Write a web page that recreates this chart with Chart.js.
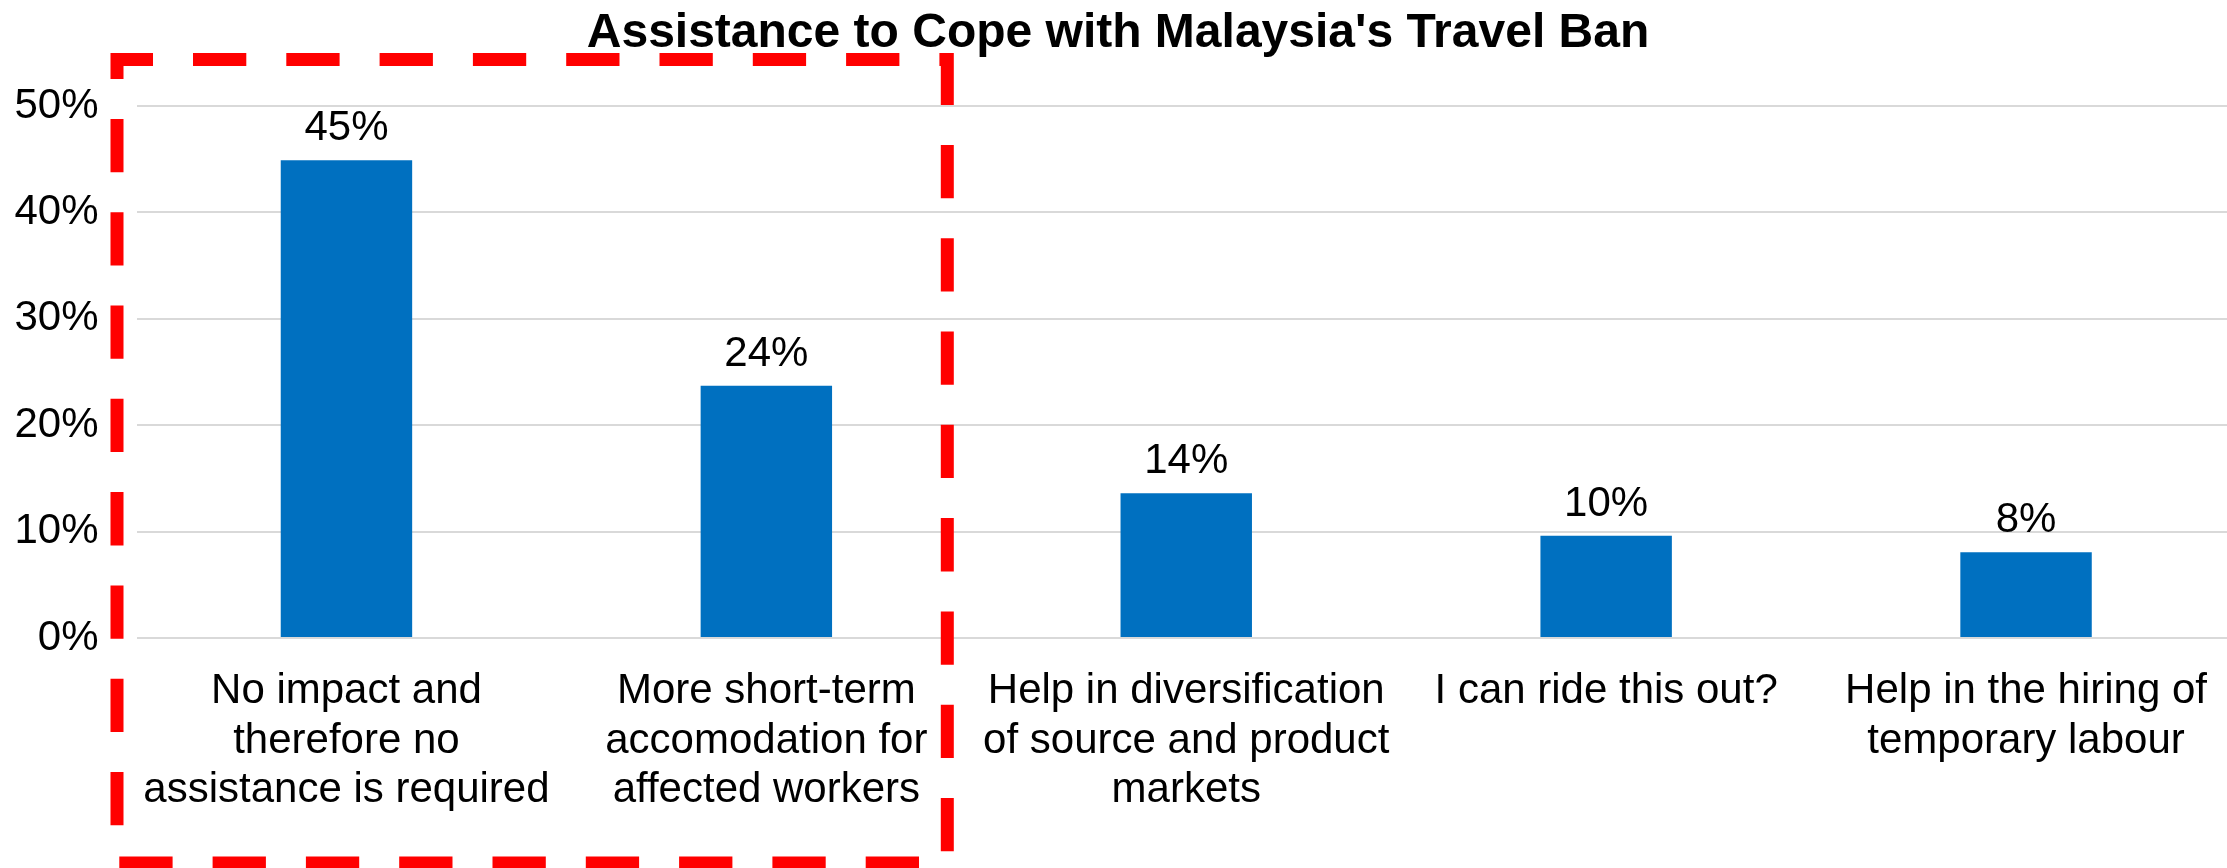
<!DOCTYPE html>
<html lang="en">
<head>
    <meta charset="UTF-8">
    <title>Assistance to Cope with Malaysia's Travel Ban</title>
    <script src="https://cdn.jsdelivr.net/npm/chart.js@4.4.1/dist/chart.umd.min.js"></script>
    <style>
        html, body { margin: 0; padding: 0; background: #ffffff; overflow: hidden; }
        #wrap { width: 2236px; height: 868px; }
    </style>
</head>
<body>
    <div id="wrap">
        <canvas id="assistChart" width="2236" height="868"></canvas>
    </div>

    <script>
        // data
        const categories = [
            ['No impact and', 'therefore no', 'assistance is required'],
            ['More short-term', 'accomodation for', 'affected workers'],
            ['Help in diversification', 'of source and product', 'markets'],
            ['I can ride this out?'],
            ['Help in the hiring of', 'temporary labour']
        ];
        const shares = [44.9, 23.7, 13.6, 9.6, 8.05];   // percent
        const yTicks = [0, 10, 20, 30, 40, 50];

        const FONT = "'Liberation Sans', Arial, sans-serif";

        // value labels on top of each bar
        const barLabels = {
            id: 'barLabels',
            afterDatasetsDraw(chart) {
                const ctx = chart.ctx;
                const meta = chart.getDatasetMeta(0);
                ctx.save();
                ctx.font = '42px ' + FONT;
                ctx.fillStyle = '#000000';
                ctx.textAlign = 'center';
                ctx.textBaseline = 'alphabetic';
                meta.data.forEach((bar, i) => {
                    ctx.fillText(Math.round(shares[i]) + '%', bar.x, bar.y - 20);
                });
                ctx.restore();
            }
        };

        // red dashed box round the first two categories
        const highlightBox = {
            id: 'highlightBox',
            afterDraw(chart) {
                const ctx = chart.ctx;
                const x = chart.scales.x;
                const area = chart.chartArea;
                const left = area.left - 19.5;
                const right = x.getPixelForValue(1.5) - 29;
                const top = area.top - 46.5;
                const bottom = chart.height - 5;
                ctx.save();
                ctx.strokeStyle = '#ff0000';
                ctx.lineWidth = 13;
                ctx.lineJoin = 'miter';
                ctx.setLineDash([53.3, 40]);
                ctx.lineDashOffset = 17.3;
                ctx.beginPath();
                ctx.moveTo(left, top);
                ctx.lineTo(right, top);
                ctx.lineTo(right, bottom);
                ctx.lineTo(left, bottom);
                ctx.closePath();
                ctx.stroke();
                ctx.restore();
            }
        };

        const ctx = document.getElementById('assistChart').getContext('2d');
        const assistChart = new Chart(ctx, {
            type: 'bar',
            data: {
                labels: categories,
                datasets: [{
                    data: shares,
                    backgroundColor: '#0070C0',
                    borderWidth: 0,
                    barPercentage: 0.313,
                    categoryPercentage: 1
                }]
            },
            options: {
                responsive: false,
                animation: false,
                devicePixelRatio: 1,
                layout: { padding: 0 },
                plugins: {
                    legend: { display: false },
                    tooltip: { enabled: false },
                    title: {
                        display: true,
                        text: "Assistance to Cope with Malaysia's Travel Ban",
                        color: '#000000',
                        font: { family: FONT, size: 48, weight: 'bold', lineHeight: 1.2 },
                        padding: { top: 5, bottom: 43.4 }
                    }
                },
                scales: {
                    x: {
                        grid: { display: false },
                        border: { display: false },
                        ticks: {
                            color: '#000000',
                            font: { family: FONT, size: 42, lineHeight: 1.18 },
                            padding: 21,
                            maxRotation: 0,
                            autoSkip: false
                        },
                        afterFit(scale) { scale.height = 230; }
                    },
                    y: {
                        min: yTicks[0],
                        max: yTicks[yTicks.length - 1],
                        afterBuildTicks(scale) {
                            scale.ticks = yTicks.map(v => ({ value: v }));
                        },
                        grid: { color: '#d9d9d9', lineWidth: 2, drawTicks: false },
                        border: { display: false },
                        ticks: {
                            color: '#000000',
                            font: { family: FONT, size: 42 },
                            padding: 38,
                            callback: v => v + '%'
                        },
                        afterFit(scale) { scale.width = 136.5; }
                    }
                }
            },
            plugins: [barLabels, highlightBox]
        });
    </script>
</body>
</html>
